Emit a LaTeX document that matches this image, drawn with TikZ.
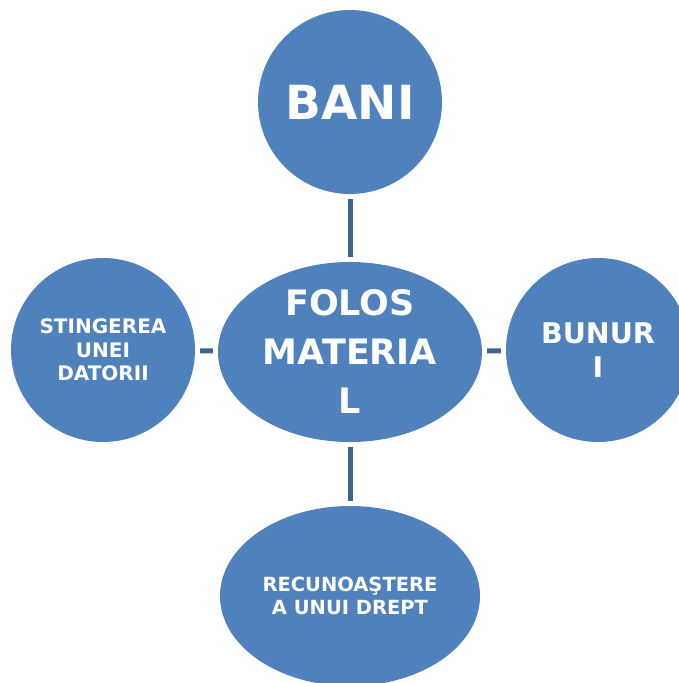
\documentclass[tikz,border=0pt]{standalone}
\usepackage{fontspec}
\setmainfont{DejaVu Sans}
\usepackage{tikz}
\usepackage{xcolor}
\usetikzlibrary{shapes.geometric}
\definecolor{blueFill}{HTML}{4F81BD}
\definecolor{blueLine}{HTML}{3C6494}

\begin{document}
\begin{tikzpicture}[x=1pt,y=-1pt]
      \clip(0,0) rectangle (679,683);
      \tikzset{C/.style = {shape=circle, fill=blueFill, minimum size=184pt, inner sep=0pt}}
      \tikzset{O/.style = {shape=ellipse, fill=blueFill, inner sep=0pt}}
      \tikzset{T/.style = {text=white, align=center, inner sep=0pt}}
      \tikzset{E/.style = {draw=blueLine, line width=5pt, shorten >=5pt, shorten <=5pt}}
      \node[O,minimum width=264pt,minimum height=180pt,
        label={[T,font=\bfseries\fontsize{35}{49}\selectfont]center:FOLOS\\MATERIA\\L}](folos) at (350,352) {};
      \node[C,label={[T,font=\bfseries\fontsize{47}{50}\selectfont]center:BANI}](bani) at (350,102) {};
      \node[C,label={[T,font=\bfseries\fontsize{20}{23.5}\selectfont]center:STINGEREA\\UNEI\\DATORII}](stingere) at (103,350) {};
      \node[C,label={[T,font=\bfseries\fontsize{28.5}{34}\selectfont]center:BUNUR\\I}](bunuri) at (598,350) {};
      \node[O,minimum width=260pt,minimum height=180pt,
        label={[T,font=\bfseries\fontsize{19.5}{23}\selectfont]center:RECUNOAŞTERE\\A UNUI DREPT}](drept) at (350,596) {};
      \draw[E](bani) to (folos);
      \draw[E](stingere) to (folos);
      \draw[E](folos) to (bunuri);
      \draw[E](folos) to (drept);
    \end{tikzpicture}
\end{document}
